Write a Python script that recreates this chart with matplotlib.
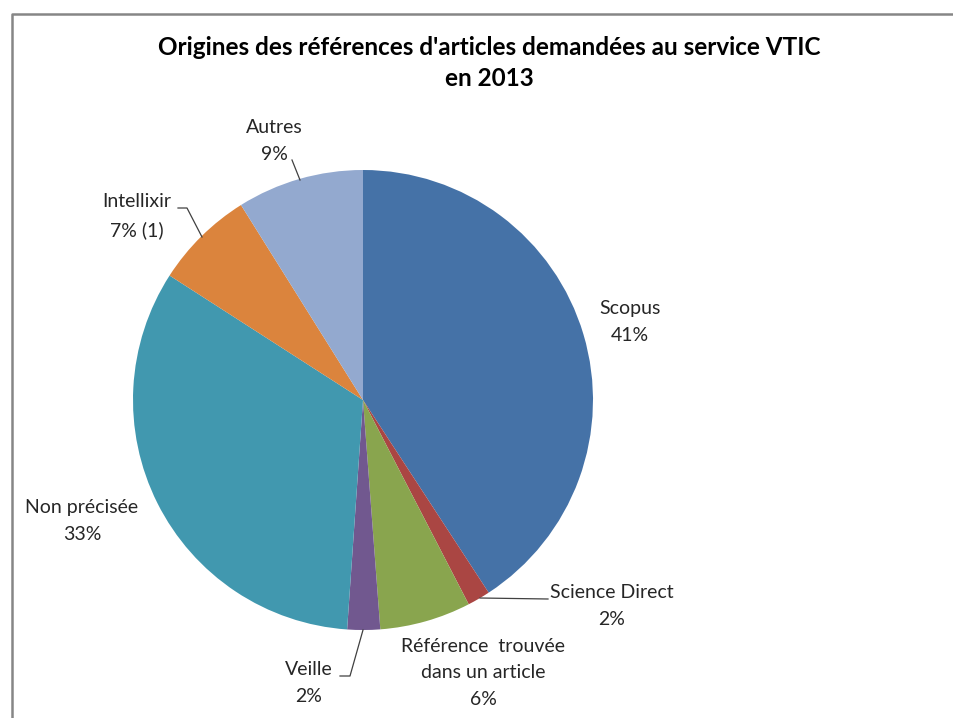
import matplotlib
matplotlib.use("Agg")
import matplotlib.pyplot as plt
from matplotlib.lines import Line2D

# Data
categories = ["Scopus", "Science Direct", "Référence  trouvée\ndans un article", "Veille",
              "Non précisée", "Intellixir", "Autres"]
values = [40.8, 1.6, 6.4, 2.3, 33.0, 7.0, 8.9]
pct_labels = ["41%", "2%", "6%", "2%", "33%", "7% (1)", "9%"]
colors = ["#4572A7", "#AA4643", "#89A54E", "#71588F", "#4198AF", "#DB843D", "#93A9CF"]
title = "Origines des références d'articles demandées au service VTIC\nen 2013"

W, H = 954, 718
fig = plt.figure(figsize=(W / 100, H / 100), dpi=100)
FONT = "Lato"

cx, cy, R = 363, 400, 230
ax = fig.add_axes([(cx - R) / W, (H - (cy + R)) / H, 2 * R / W, 2 * R / H])
ax.pie(values, colors=colors, startangle=90, counterclock=False, radius=1,
       wedgeprops=dict(linewidth=0))
ax.set_xlim(-1, 1)
ax.set_ylim(-1, 1)
ax.set_aspect("auto")
ax.axis("off")

def d(px, py):
    return ((px - cx) / R, (cy - py) / R)

# label positions (pixel centers) and optional leader lines
label_pos = [(630, 322), (612, 606), (483, 673), (309, 683), (82, 521), (137, 216), (274, 141)]
leaders = [None,
           [(480, 598), (548, 599)],
           None,
           [(363, 630), (350, 676), (340, 676)],
           None,
           [(202, 237), (187, 208), (178, 208)],
           [(300, 180), (292, 160)]]

for cat, pl, pos, ld in zip(categories, pct_labels, label_pos, leaders):
    x, y = d(*pos)
    ax.text(x, y, f"{cat}\n{pl}", ha="center", va="center", fontsize=14,
            family=FONT, color="#262626", linespacing=1.7, clip_on=False)
    if ld is not None:
        xs = [d(*p)[0] for p in ld]
        ys = [d(*p)[1] for p in ld]
        ax.add_line(Line2D(xs, ys, color="#404040", linewidth=0.9, clip_on=False))

fig.text(489 / W, 1 - 63 / H, title, ha="center", va="center", fontsize=17.5,
         fontweight="bold", family=FONT, color="#000000", linespacing=1.4)

# chart frame (left and top edges visible)
fig.add_artist(Line2D([12 / W, 12 / W, 1.0], [0.0, 1 - 14 / H, 1 - 14 / H],
                      transform=fig.transFigure, color="#868686", linewidth=1.8))

fig.savefig("out.png", dpi=100, facecolor="white")
